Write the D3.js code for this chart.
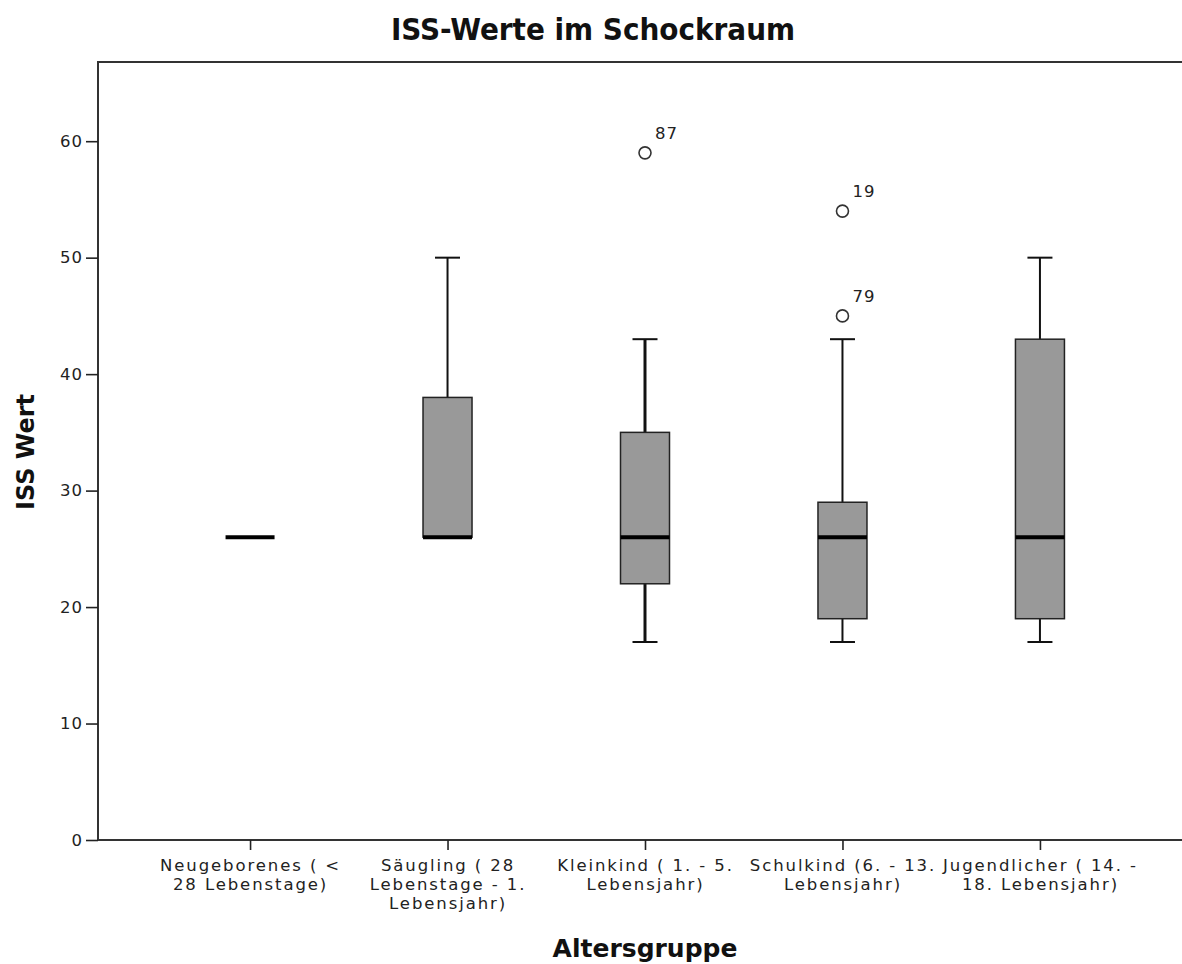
<!DOCTYPE html>
<html>
<head>
<meta charset="utf-8">
<script src="https://cdn.jsdelivr.net/npm/d3@7"></script>
<style>
  html, body { margin: 0; padding: 0; background: #fff; }
  svg { display: block; }
</style>
</head>
<body>
<svg id="chart" width="1182" height="964"></svg>
<script>
// Altersgruppen and their wrapped axis labels
const groups = ["Neugeborenes", "Säugling", "Kleinkind", "Schulkind", "Jugendlicher"];
const groupLabels = [
  ["Neugeborenes ( <", "28 Lebenstage)"],
  ["Säugling ( 28", "Lebenstage - 1.", "Lebensjahr)"],
  ["Kleinkind ( 1. - 5.", "Lebensjahr)"],
  ["Schulkind (6. - 13.", "Lebensjahr)"],
  ["Jugendlicher ( 14. -", "18. Lebensjahr)"]
];

// Five-number summaries of the ISS values per group
const whiskerLow = [26, 26, 17, 17, 17];
const q1         = [26, 26, 22, 19, 19];
const median     = [26, 26, 26, 26, 26];
const q3         = [26, 38, 35, 29, 43];
const whiskerHigh= [26, 50, 43, 43, 50];

// Outliers: group, ISS value, case number
const outlierGroup = ["Kleinkind", "Schulkind", "Schulkind"];
const outlierValue = [59, 54, 45];
const outlierCase  = ["87", "19", "79"];

const yTicks = [0, 10, 20, 30, 40, 50, 60];

const svg = d3.select("#chart");
const plot = { left: 98, right: 1192, top: 62, bottom: 840 };

const x = d3.scalePoint().domain(groups).range([plot.left, plot.right]).padding(0.77);
const y = d3.scaleLinear().domain([0, 66.8]).range([plot.bottom, plot.top]);

const boxW = 49, capW = 25;
const ink = "#222";

// Title
svg.append("text")
  .attr("x", 593).attr("y", 40)
  .attr("text-anchor", "middle")
  .attr("font-family", "'DejaVu Sans Condensed', 'DejaVu Sans', sans-serif")
  .attr("font-weight", "bold")
  .attr("font-size", 31)
  .attr("fill", "#111")
  .text("ISS-Werte im Schockraum");

// Plot frame (right side runs past the canvas edge)
svg.append("rect")
  .attr("x", plot.left).attr("y", plot.top)
  .attr("width", plot.right - plot.left + 20).attr("height", plot.bottom - plot.top)
  .attr("fill", "none").attr("stroke", "#333").attr("stroke-width", 2);

// Y axis
const yAxis = svg.append("g")
  .attr("transform", `translate(${plot.left},0)`)
  .call(d3.axisLeft(y).tickValues(yTicks).tickSize(12).tickPadding(3).tickFormat(d3.format("d")));
yAxis.select(".domain").remove();
yAxis.selectAll(".tick line").attr("stroke", ink).attr("stroke-width", 1.6);
yAxis.selectAll(".tick text")
  .attr("font-family", "'DejaVu Sans', sans-serif")
  .attr("font-size", 16.5).attr("fill", ink).attr("letter-spacing", 1);

// X axis with wrapped category labels
const xAxis = svg.append("g")
  .attr("transform", `translate(0,${plot.bottom})`)
  .call(d3.axisBottom(x).tickSize(10).tickFormat(""));
xAxis.select(".domain").remove();
xAxis.selectAll(".tick line").attr("stroke", ink).attr("stroke-width", 1.6);
xAxis.selectAll(".tick").each(function(d, i) {
  const t = d3.select(this).append("text")
    .attr("text-anchor", "middle")
    .attr("font-family", "'DejaVu Sans', sans-serif")
    .attr("font-size", 16.5)
    .attr("letter-spacing", 1.9)
    .attr("fill", ink)
    .attr("y", 31);
  groupLabels[i].forEach((line, k) => {
    t.append("tspan").attr("x", 0).attr("dy", k === 0 ? 0 : 19).text(line);
  });
});

// Axis titles
svg.append("text")
  .attr("x", 645).attr("y", 957)
  .attr("text-anchor", "middle")
  .attr("font-family", "'DejaVu Sans', sans-serif")
  .attr("font-weight", "bold").attr("font-size", 25)
  .attr("fill", "#111")
  .text("Altersgruppe");

svg.append("text")
  .attr("transform", "translate(34,452) rotate(-90)")
  .attr("text-anchor", "middle")
  .attr("font-family", "'DejaVu Sans', sans-serif")
  .attr("font-weight", "bold").attr("font-size", 24)
  .attr("fill", "#111")
  .text("ISS Wert");

// Boxplots
const boxes = svg.append("g");
groups.forEach((g, i) => {
  const cx = x(g);
  const gEl = boxes.append("g");
  const sw = g === "Kleinkind" ? 3 : 2;
  // upper whisker
  if (whiskerHigh[i] > q3[i]) {
    gEl.append("line").attr("x1", cx).attr("x2", cx)
      .attr("y1", y(q3[i])).attr("y2", y(whiskerHigh[i]))
      .attr("stroke", "#111").attr("stroke-width", sw);
    gEl.append("line").attr("x1", cx - capW / 2).attr("x2", cx + capW / 2)
      .attr("y1", y(whiskerHigh[i])).attr("y2", y(whiskerHigh[i]))
      .attr("stroke", "#111").attr("stroke-width", 2);
  }
  // lower whisker
  if (whiskerLow[i] < q1[i]) {
    gEl.append("line").attr("x1", cx).attr("x2", cx)
      .attr("y1", y(q1[i])).attr("y2", y(whiskerLow[i]))
      .attr("stroke", "#111").attr("stroke-width", sw);
    gEl.append("line").attr("x1", cx - capW / 2).attr("x2", cx + capW / 2)
      .attr("y1", y(whiskerLow[i])).attr("y2", y(whiskerLow[i]))
      .attr("stroke", "#111").attr("stroke-width", 2);
  }
  // box
  if (q3[i] > q1[i]) {
    gEl.append("rect")
      .attr("x", cx - boxW / 2).attr("y", y(q3[i]))
      .attr("width", boxW).attr("height", y(q1[i]) - y(q3[i]))
      .attr("fill", "#999").attr("stroke", "#222").attr("stroke-width", 1.5);
  }
  // median
  gEl.append("line")
    .attr("x1", cx - boxW / 2).attr("x2", cx + boxW / 2)
    .attr("y1", y(median[i])).attr("y2", y(median[i]))
    .attr("stroke", "#000").attr("stroke-width", 4);
});

// Outliers with case labels
const outliers = svg.append("g");
outlierValue.forEach((v, i) => {
  const cx = x(outlierGroup[i]);
  outliers.append("circle")
    .attr("cx", cx).attr("cy", y(v)).attr("r", 6)
    .attr("fill", "#fff").attr("stroke", "#333").attr("stroke-width", 1.6);
  outliers.append("text")
    .attr("x", cx + 10).attr("y", y(v) - 14)
    .attr("font-family", "'DejaVu Sans', sans-serif")
    .attr("font-size", 16.5).attr("letter-spacing", 1)
    .attr("fill", ink)
    .text(outlierCase[i]);
});
</script>
</body>
</html>
